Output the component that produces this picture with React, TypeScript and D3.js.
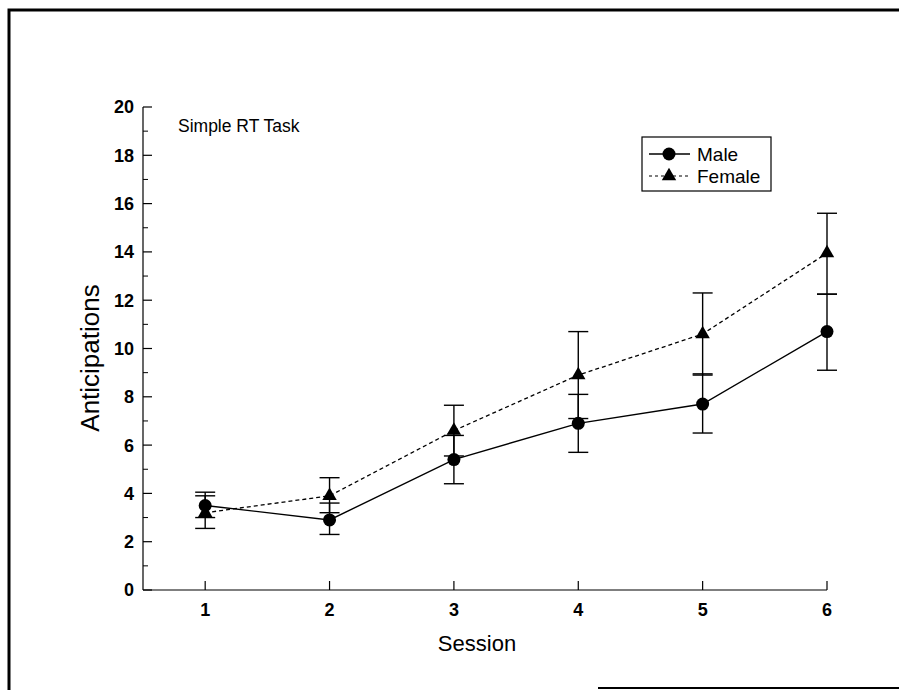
import React, { useEffect, useRef } from 'react';
import * as d3 from 'd3';

// data
const sessions = [1, 2, 3, 4, 5, 6];
const maleMean = [3.5, 2.9, 5.4, 6.9, 7.7, 10.7];
const maleHi = [4.05, 3.6, 6.4, 8.1, 8.95, 12.25];
const maleLo = [3.0, 2.3, 4.4, 5.7, 6.5, 9.1];
const femaleMean = [3.2, 3.9, 6.6, 8.9, 10.6, 13.95];
const femaleHi = [3.9, 4.65, 7.65, 10.7, 12.3, 15.6];
const femaleLo = [2.55, 3.2, 5.55, 7.1, 8.9, 12.25];
const yTicks = [0, 2, 4, 6, 8, 10, 12, 14, 16, 18, 20];
const yMinor = [1, 3, 5, 7, 9, 11, 13, 15, 17, 19];

const W = 899;
const H = 690;
const FONT = '"Liberation Sans", Arial, sans-serif';

const App = () => {
  const ref = useRef<SVGSVGElement>(null);

  useEffect(() => {
    if (!ref.current) return;
    const svg = d3.select(ref.current);
    svg.selectAll('*').remove();

    const x = d3.scaleLinear().domain([0.5, 6]).range([143, 827]);
    const y = d3.scaleLinear().domain([0, 20]).range([590, 107]);

    // page frame (scanned figure border)
    svg.append('rect').attr('width', W).attr('height', H).attr('fill', '#fff');
    svg.append('path')
      .attr('d', `M9,${H} L9,10 L${W},10`)
      .attr('fill', 'none').attr('stroke', '#000').attr('stroke-width', 3);
    svg.append('line')
      .attr('x1', 598).attr('x2', W).attr('y1', 688).attr('y2', 688)
      .attr('stroke', '#000').attr('stroke-width', 2);

    const g = svg.append('g');

    // axes
    g.append('line')
      .attr('x1', x(0.5)).attr('x2', x(6)).attr('y1', y(0)).attr('y2', y(0))
      .attr('stroke', '#000').attr('stroke-width', 1.2);
    g.append('line')
      .attr('x1', x(0.5)).attr('x2', x(0.5)).attr('y1', y(0)).attr('y2', y(20))
      .attr('stroke', '#000').attr('stroke-width', 1.2);

    g.selectAll('.ytick').data(yTicks).enter().append('line')
      .attr('x1', x(0.5)).attr('x2', x(0.5) + 9)
      .attr('y1', (d) => y(d)).attr('y2', (d) => y(d))
      .attr('stroke', '#000').attr('stroke-width', 1.2);
    g.selectAll('.yminor').data(yMinor).enter().append('line')
      .attr('x1', x(0.5)).attr('x2', x(0.5) + 5)
      .attr('y1', (d) => y(d)).attr('y2', (d) => y(d))
      .attr('stroke', '#000').attr('stroke-width', 1);
    g.selectAll('.ylab').data(yTicks).enter().append('text')
      .attr('x', x(0.5) - 9).attr('y', (d) => y(d))
      .attr('dy', '0.36em').attr('text-anchor', 'end')
      .attr('font-family', FONT).attr('font-weight', 'bold').attr('font-size', 18)
      .text((d) => d);

    g.selectAll('.xtick').data(sessions).enter().append('line')
      .attr('x1', (d) => x(d)).attr('x2', (d) => x(d))
      .attr('y1', y(0)).attr('y2', y(0) - 9)
      .attr('stroke', '#000').attr('stroke-width', 1.2);
    g.selectAll('.xlab').data(sessions).enter().append('text')
      .attr('x', (d) => x(d)).attr('y', y(0) + 26)
      .attr('text-anchor', 'middle')
      .attr('font-family', FONT).attr('font-weight', 'bold').attr('font-size', 18)
      .text((d) => d);

    // axis titles
    g.append('text')
      .attr('transform', 'translate(99,358) rotate(-90)')
      .attr('text-anchor', 'middle')
      .attr('font-family', FONT).attr('font-size', 26)
      .text('Anticipations');
    g.append('text')
      .attr('x', 477).attr('y', 651).attr('text-anchor', 'middle')
      .attr('font-family', FONT).attr('font-size', 22)
      .text('Session');

    g.append('text')
      .attr('x', 178).attr('y', 132)
      .attr('font-family', FONT).attr('font-size', 17.5)
      .text('Simple RT Task');

    // error bars
    const bars = (hi: number[], lo: number[]) => {
      sessions.forEach((s, i) => {
        const cx = x(s);
        g.append('line')
          .attr('x1', cx).attr('x2', cx).attr('y1', y(hi[i])).attr('y2', y(lo[i]))
          .attr('stroke', '#000').attr('stroke-width', 1.4);
        [hi[i], lo[i]].forEach((v) => {
          g.append('line')
            .attr('x1', cx - 10).attr('x2', cx + 10).attr('y1', y(v)).attr('y2', y(v))
            .attr('stroke', '#000').attr('stroke-width', 1.4);
        });
      });
    };
    bars(maleHi, maleLo);
    bars(femaleHi, femaleLo);

    const line = d3.line<number>()
      .x((_, i) => x(sessions[i]))
      .y((d) => y(d));

    g.append('path').attr('d', line(femaleMean))
      .attr('fill', 'none').attr('stroke', '#000').attr('stroke-width', 1.3)
      .attr('stroke-dasharray', '4,3');
    g.append('path').attr('d', line(maleMean))
      .attr('fill', 'none').attr('stroke', '#000').attr('stroke-width', 1.4);

    const tri = d3.symbol().type(d3.symbolTriangle).size(90);
    g.selectAll('.fem').data(femaleMean).enter().append('path')
      .attr('d', tri)
      .attr('transform', (d, i) => `translate(${x(sessions[i])},${y(d)})`)
      .attr('fill', '#000');
    g.selectAll('.male').data(maleMean).enter().append('circle')
      .attr('cx', (_, i) => x(sessions[i])).attr('cy', (d) => y(d))
      .attr('r', 6.5).attr('fill', '#000');

    // legend
    const lg = g.append('g').attr('transform', 'translate(642,137)');
    lg.append('rect').attr('width', 129).attr('height', 54)
      .attr('fill', '#fff').attr('stroke', '#000').attr('stroke-width', 1.2);
    lg.append('line').attr('x1', 7).attr('x2', 48).attr('y1', 17).attr('y2', 17)
      .attr('stroke', '#000').attr('stroke-width', 1.4);
    lg.append('circle').attr('cx', 27).attr('cy', 17).attr('r', 6.5).attr('fill', '#000');
    lg.append('text').attr('x', 55).attr('y', 17).attr('dy', '0.36em')
      .attr('font-family', FONT).attr('font-size', 19).text('Male');
    lg.append('line').attr('x1', 7).attr('x2', 48).attr('y1', 39).attr('y2', 39)
      .attr('stroke', '#000').attr('stroke-width', 1.2).attr('stroke-dasharray', '3,3');
    lg.append('path').attr('d', tri).attr('transform', 'translate(27,39)').attr('fill', '#000');
    lg.append('text').attr('x', 55).attr('y', 39).attr('dy', '0.36em')
      .attr('font-family', FONT).attr('font-size', 19).text('Female');
  }, []);

  return <svg ref={ref} width={W} height={H} style={{ display: 'block', position: 'absolute', left: 0, top: 0 }} />;
};

export default App;
